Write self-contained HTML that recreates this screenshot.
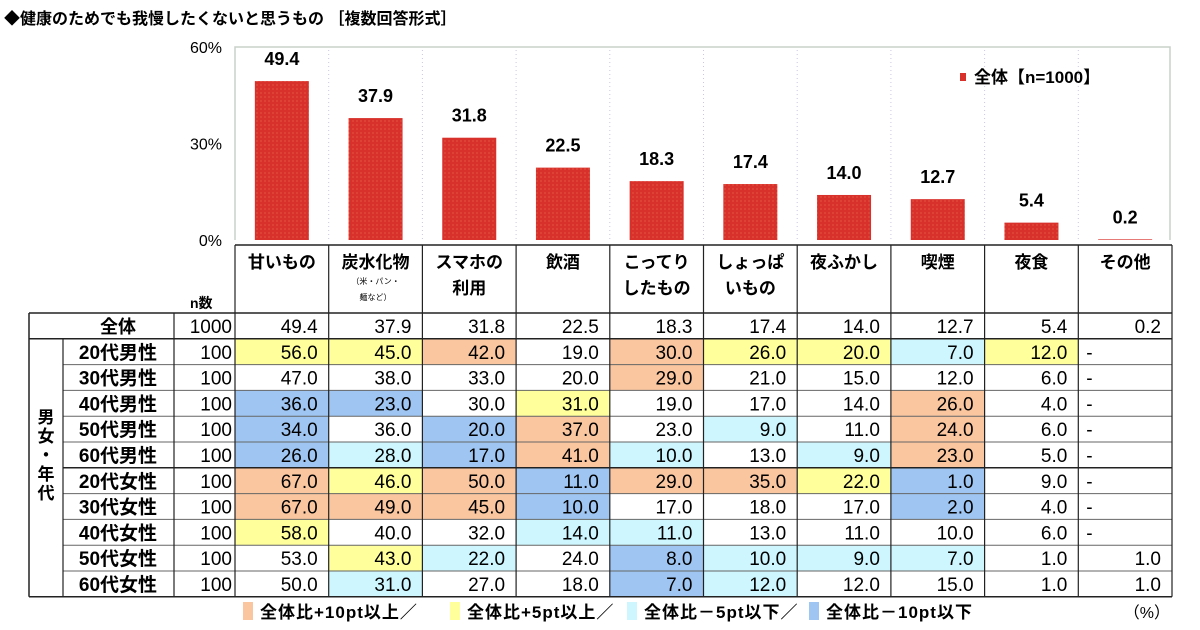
<!DOCTYPE html>
<html><head><meta charset="utf-8"><style>
html,body{margin:0;padding:0;background:#fff;}
svg{display:block;font-family:"Liberation Sans","Noto Sans CJK JP",sans-serif;}
</style></head><body>
<svg id="c" width="1200" height="630" viewBox="0 0 1200 630">
<defs>
<pattern id="dots" width="4" height="4" patternUnits="userSpaceOnUse"><rect width="4" height="4" fill="#d8302a"/><circle cx="1" cy="1" r="0.6" fill="#f07050"/></pattern>
</defs>
<text x="4" y="24" font-size="16" font-weight="bold">◆健康のためでも我慢したくないと思うもの ［複数回答形式］</text>
<g id="g"></g>
</svg>
<script>
const categories=["甘いもの","炭水化物","スマホの","飲酒","こってり","しょっぱ","夜ふかし","喫煙","夜食","その他"];
const categories2=["","","利用","","したもの","いもの","","","",""];
const totalValues=[49.4,37.9,31.8,22.5,18.3,17.4,14.0,12.7,5.4,0.2];
const yTicks=[0,30,60];
const rowLabels=["20代男性","30代男性","40代男性","50代男性","60代男性","20代女性","30代女性","40代女性","50代女性","60代女性"];
const rowN=[100,100,100,100,100,100,100,100,100,100];
const rowValues=[
["56.0","45.0","42.0","19.0","30.0","26.0","20.0","7.0","12.0","-"],
["47.0","38.0","33.0","20.0","29.0","21.0","15.0","12.0","6.0","-"],
["36.0","23.0","30.0","31.0","19.0","17.0","14.0","26.0","4.0","-"],
["34.0","36.0","20.0","37.0","23.0","9.0","11.0","24.0","6.0","-"],
["26.0","28.0","17.0","41.0","10.0","13.0","9.0","23.0","5.0","-"],
["67.0","46.0","50.0","11.0","29.0","35.0","22.0","1.0","9.0","-"],
["67.0","49.0","45.0","10.0","17.0","18.0","17.0","2.0","4.0","-"],
["58.0","40.0","32.0","14.0","11.0","13.0","11.0","10.0","6.0","-"],
["53.0","43.0","22.0","24.0","8.0","10.0","9.0","7.0","1.0","1.0"],
["50.0","31.0","27.0","18.0","7.0","12.0","12.0","15.0","1.0","1.0"]];
const rowShade=[
"YYOxOYYCYx","xxxxOxxxxx","BBxYxxxOxx","BxBOxCxOxx","BCBOCxCOxx",
"OYOBOOYBxx","OOOBxxxBxx","YxxCCxxxxx","xYCxBCCCxx","xCxxBCxxxx"];
const shadeCol={O:"#f9c6a0",Y:"#ffff9c",C:"#cdf6ff",B:"#9fc6f2"};

const g=document.getElementById('g');
const NS="http://www.w3.org/2000/svg";
function el(t,a,txt){const e=document.createElementNS(NS,t);for(const k in a)e.setAttribute(k,a[k]);if(txt!==undefined)e.textContent=txt;g.appendChild(e);return e;}
const colX0=235,colW=93.7,plotTop=47,plotBot=240;
const x=i=>colX0+i*colW;
const y=v=>plotBot-(v/60)*(plotBot-plotTop);
let e=el('path',{d:`M${colX0} ${plotBot} V${plotTop} H1170 V${plotBot}`,fill:'none',stroke:'#c8d0c8','stroke-width':1.5});


for(let i=1;i<10;i++){e=el('line',{x1:x(i),x2:x(i),y1:plotTop+3,y2:plotBot,stroke:'#c8c8e0','stroke-dasharray':'1 3'});

}
yTicks.forEach(t=>{e=el('text',{x:222,y:y(t)+6,'font-size':16,'text-anchor':'end'},t+'%');

});
totalValues.forEach((v,i)=>{const cx=x(i)+colW/2;
e=el('rect',{x:cx-27,y:y(v),width:54,height:plotBot-y(v),fill:'url(#dots)'});


e=el('text',{x:cx,y:y(v)-16,'font-size':18,'font-weight':'bold','text-anchor':'middle'},v.toFixed(1));

});
e=el('rect',{x:960,y:73,width:6,height:8,fill:'#d8302a'});


e=el('text',{x:974,y:83,'font-size':17,'font-weight':'bold'},'全体【n=1000】');


const hTop=245,r0=313,rH=25.8;
const rowTop=r=>r0+rH*(r+1);
const tBot=rowTop(10);
categories.forEach((c,i)=>{const cx=x(i)+colW/2;
e=el('text',{x:cx,y:268,'font-size':17,'font-weight':'bold','text-anchor':'middle'},c);


if(categories2[i]){e=el('text',{x:cx,y:294,'font-size':17,'font-weight':'bold','text-anchor':'middle'},categories2[i]);

}});
e=el('text',{x:x(1)+colW/2,y:284,'font-size':8,'text-anchor':'middle'},'（米・パン・');


e=el('text',{x:x(1)+colW/2,y:300,'font-size':8,'text-anchor':'middle'},'麺など）');


e=el('text',{x:190,y:308,'font-size':14,'font-weight':'bold'},'n数');


rowValues.forEach((row,r)=>row.forEach((v,c)=>{const s=rowShade[r][c];
if(s!=='x'){e=el('rect',{x:x(c),y:rowTop(r),width:colW,height:rH,fill:shadeCol[s]});

}}));
e=el('text',{x:118,y:r0+20,'font-size':18,'font-weight':'bold','text-anchor':'middle'},'全体');


e=el('text',{x:232,y:r0+20,'font-size':19,'text-anchor':'end'},'1000');


totalValues.forEach((v,i)=>{e=el('text',{x:x(i+1)-11,y:r0+20,'font-size':19,'text-anchor':'end'},v.toFixed(1));

});
rowLabels.forEach((l,r)=>{const ty=rowTop(r)+20;
e=el('text',{x:118,y:ty,'font-size':19,'font-weight':'bold','text-anchor':'middle'},l);


e=el('text',{x:232,y:ty,'font-size':19,'text-anchor':'end'},rowN[r]);


rowValues[r].forEach((v,c)=>{const dash=v==='-';
e=el('text',{x:dash?x(c)+8:x(c+1)-11,y:ty,'font-size':19,'text-anchor':dash?'start':'end'},v);

});});
['男','女','・','年','代'].forEach((ch,i)=>{e=el('text',{x:46,y:423+i*19,'font-size':17,'font-weight':'bold','text-anchor':'middle'},ch);

});
const L=(x1,y1,x2,y2,w,c)=>{e=el('line',{x1,y1,x2,y2,stroke:c||'#222','stroke-width':w||1.2});

};
const tRight=x(10);
L(colX0,hTop,tRight,hTop,1.5);
L(29,r0,tRight,r0,1.5);
L(29,rowTop(0),tRight,rowTop(0),1.5);
for(let r=1;r<10;r++)L(63,rowTop(r),tRight,rowTop(r),r===5?1.5:1,r===5?'#222':'#666');
L(29,tBot,tRight,tBot,1.5);
L(29,r0,29,tBot,1.5);
L(63,rowTop(0),63,tBot,1.2);
L(174,r0,174,tBot,1.2);
for(let i=0;i<=10;i++)L(x(i),hTop,x(i),tBot,1.2);
const lg=[["#f9c6a0",243,'全体比+10pt以上／'],["#ffff9c",450,'全体比+5pt以上／'],["#cdf6ff",627,'全体比－5pt以下／'],["#9fc6f2",809,'全体比－10pt以下']];
lg.forEach(([c,lx,t])=>{e=el('rect',{x:lx,y:602,width:10,height:18,fill:c});


e=el('text',{x:lx+17,y:618,'font-size':17,'font-weight':'bold','letter-spacing':1},t);

});
e=el('text',{x:1170,y:618,'font-size':16,'text-anchor':'end'},'（%）');


</script>
</body></html>
